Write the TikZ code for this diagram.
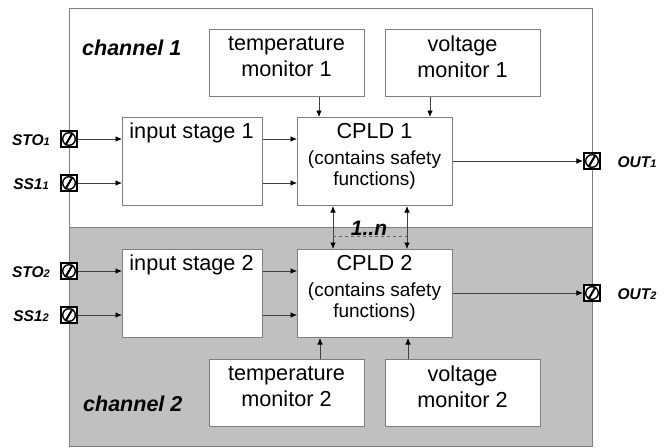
\documentclass[tikz,border=0pt]{standalone}
\usepackage{fontspec}
\setmainfont{Liberation Sans}
\usetikzlibrary{arrows.meta}
\definecolor{linegray}{HTML}{7F7F7F}
\definecolor{chgray}{HTML}{C0C0C0}
\tikzset{
  x=1pt,y=-1pt,
  channelbox/.style={draw=linegray,line width=1pt,anchor=north west,inner sep=0pt},
  blockbox/.style={draw=linegray,line width=1pt,fill=white,anchor=north west,inner sep=0pt},
  blocktext/.style={anchor=north,inner sep=0pt,align=center,font=\fontsize{21.7}{26}\selectfont},
  cpldtext/.style={anchor=north,inner sep=0pt,align=center,font=\fontsize{19}{23}\selectfont},
  terminal/.style={draw=black,line width=1.6pt,fill=white,minimum size=16.5pt,inner sep=0pt,
    path picture={
      \draw[line width=1.4pt] (path picture bounding box.center) circle (6.3pt);
      \draw[line width=2.1pt] ([shift={(-3.6pt,-6.2pt)}]path picture bounding box.center) -- ([shift={(3.6pt,6.2pt)}]path picture bounding box.center);
    }},
  termlabel/.style={inner sep=0pt,font=\fontsize{15.5}{18}\selectfont\bfseries\itshape},
  chlabel/.style={inner sep=0pt,anchor=west,font=\fontsize{21.5}{24}\selectfont\bfseries\itshape},
  conn/.style={draw=black!75,line width=0.8pt,-{Latex[length=6.5pt,width=5.5pt,black]}},
  biconn/.style={draw=black!75,line width=0.8pt,{Latex[length=6.5pt,width=5.5pt,black]}-{Latex[length=6.5pt,width=5.5pt,black]}},
  link/.style={draw=black!60,line width=0.8pt,dashed}
}
\newcommand{\sblo}[1]{\fontsize{11}{12}\selectfont #1}
\newcommand{\cpldlines}[1]{{\fontsize{21.7}{23}\selectfont CPLD #1}\\[3pt](contains safety\\[-2pt]functions)}
\begin{document}
\begin{tikzpicture}
\useasboundingbox (0,0) rectangle (668,447);
\node[channelbox,fill=white,minimum width=523pt,minimum height=219pt] (ch1) at (69,8) {};
\node[channelbox,fill=chgray,minimum width=523pt,minimum height=219pt] (ch2) at (69,227) {};

\node[blockbox,minimum width=155pt,minimum height=67pt] (t1) at (209,29) {};
\node[blocktext] (t1t) at (286.5,36) {temperature\\monitor 1};
\node[blockbox,minimum width=155pt,minimum height=67pt] (v1) at (385,29) {};
\node[blocktext] (v1t) at (462.5,36) {voltage\\monitor 1};
\node[blockbox,minimum width=140pt,minimum height=88pt] (in1) at (122,117) {};
\node[blocktext] (in1t) at (191.5,123) {input stage 1};
\node[blockbox,minimum width=155pt,minimum height=88pt] (c1) at (297,117) {};
\node[cpldtext] (c1t) at (374.5,123.5) {\cpldlines{1}};

\node[blockbox,minimum width=140pt,minimum height=88pt] (in2) at (122,249) {};
\node[blocktext] (in2t) at (191.5,255) {input stage 2};
\node[blockbox,minimum width=155pt,minimum height=88pt] (c2) at (297,249) {};
\node[cpldtext] (c2t) at (374.5,255.5) {\cpldlines{2}};
\node[blockbox,minimum width=155pt,minimum height=66.5pt] (t2) at (209,359) {};
\node[blocktext] (t2t) at (286.5,366) {temperature\\monitor 2};
\node[blockbox,minimum width=155pt,minimum height=66.5pt] (v2) at (385,359) {};
\node[blocktext] (v2t) at (462.5,366) {voltage\\monitor 2};

\node[chlabel] (l1) at (82,48) {channel 1};
\node[chlabel] (l2) at (83,404) {channel 2};

\node[terminal] (sto1) at (69,139) {};
\node[terminal] (ss1) at (69,183) {};
\node[terminal] (sto2) at (69,271) {};
\node[terminal] (ss2) at (69,315) {};
\node[terminal] (out1) at (592,161) {};
\node[terminal] (out2) at (592,293) {};

\node[termlabel] (lsto1) at (31,140) {STO\sblo{1}};
\node[termlabel] (lss1) at (31,184) {SS1\sblo{1}};
\node[termlabel] (lsto2) at (31,272) {STO\sblo{2}};
\node[termlabel] (lss2) at (31,316) {SS1\sblo{2}};
\node[termlabel] (lout1) at (637,162) {OUT\sblo{1}};
\node[termlabel] (lout2) at (637,294) {OUT\sblo{2}};

\coordinate (ax1) at (319,0);
\coordinate (ax2) at (430,0);
\coordinate (ax3) at (333,0);
\coordinate (ax4) at (407,0);
\coordinate (ax5) at (320,0);
\coordinate (ax6) at (408,0);
\coordinate (ady) at (0,236);

\draw[conn] (sto1) -- (in1.west |- sto1);
\draw[conn] (ss1) -- (in1.west |- ss1);
\draw[conn] (sto2) -- (in2.west |- sto2);
\draw[conn] (ss2) -- (in2.west |- ss2);
\draw[conn] (in1.east |- sto1) -- (c1.west |- sto1);
\draw[conn] (in1.east |- ss1) -- (c1.west |- ss1);
\draw[conn] (in2.east |- sto2) -- (c2.west |- sto2);
\draw[conn] (in2.east |- ss2) -- (c2.west |- ss2);
\draw[conn] (c1.east |- out1) -- (out1);
\draw[conn] (c2.east |- out2) -- (out2);
\draw[conn] (t1.south -| ax1) -- (c1.north -| ax1);
\draw[conn] (v1.south -| ax2) -- (c1.north -| ax2);
\draw[conn] (t2.north -| ax5) -- (c2.south -| ax5);
\draw[conn] (v2.north -| ax6) -- (c2.south -| ax6);
\draw[biconn] (c1.south -| ax3) -- (c2.north -| ax3);
\draw[biconn] (c1.south -| ax4) -- (c2.north -| ax4);
\draw[link] (ax3 |- ady) -- (ax4 |- ady);
\node[inner sep=0pt,font=\fontsize{21}{24}\selectfont\bfseries\itshape] (n) at (369,228) {1..n};
\end{tikzpicture}
\end{document}
